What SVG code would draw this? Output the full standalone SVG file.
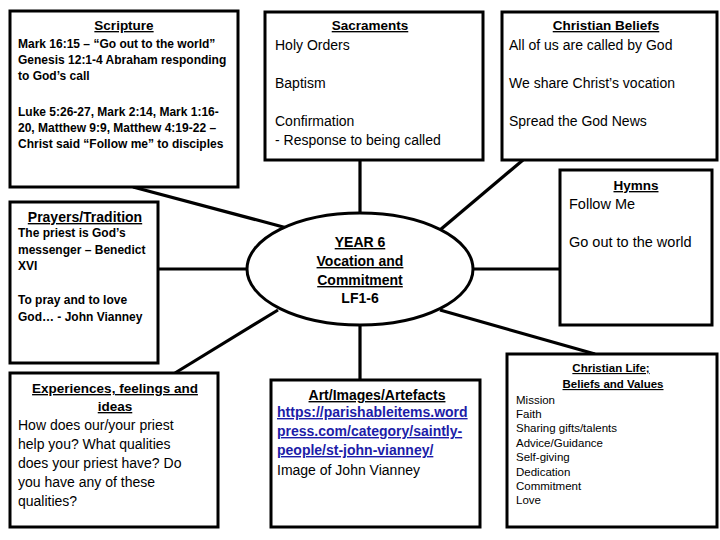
<svg xmlns="http://www.w3.org/2000/svg" width="720" height="540" viewBox="0 0 720 540">
<style>
.box{fill:#fff;stroke:#000;stroke-width:3}
.con line{stroke:#000;stroke-width:3.2;stroke-linecap:butt}
text{font-family:"Liberation Sans",Arial,sans-serif;fill:#000}
.t{font-weight:bold;text-decoration:underline;text-anchor:middle}
.b{font-weight:bold}
.lnk{fill:#1c1ca8;font-weight:bold;text-decoration:underline}
</style>
<rect width="720" height="540" fill="#fff"/>
<g id="connectors" class="con">
<line x1="133" y1="187" x2="287" y2="228"/>
<line x1="360" y1="160" x2="360" y2="213"/>
<line x1="523" y1="160" x2="440" y2="230"/>
<line x1="158" y1="269" x2="247" y2="269"/>
<line x1="472" y1="269" x2="560" y2="269"/>
<line x1="175" y1="373" x2="278" y2="310"/>
<line x1="360" y1="325" x2="360" y2="380"/>
<line x1="440" y1="310" x2="595" y2="354"/>
</g>
<g id="scripture">
<rect class="box" x="10" y="11" width="228" height="176"/>
<text class="t" x="124" y="30" font-size="13.5">Scripture</text>
<g class="b" font-size="12">
<text x="18" y="48">Mark 16:15 – “Go out to the world”</text>
<text x="18" y="64">Genesis 12:1-4 Abraham responding</text>
<text x="18" y="80">to God’s call</text>
<text x="18" y="116">Luke 5:26-27, Mark 2:14, Mark 1:16-</text>
<text x="18" y="132">20, Matthew 9:9, Matthew 4:19-22 –</text>
<text x="18" y="148">Christ said “Follow me” to disciples</text>
</g>
</g>
<g id="sacraments">
<rect class="box" x="265" y="12" width="218" height="148"/>
<text class="t" x="370" y="30" font-size="13.5">Sacraments</text>
<g font-size="14">
<text x="275" y="50">Holy Orders</text>
<text x="275" y="88">Baptism</text>
<text x="275" y="126">Confirmation</text>
<text x="275" y="145">- Response to being called</text>
</g>
</g>
<g id="christian-beliefs">
<rect class="box" x="502" y="12" width="215" height="148"/>
<text class="t" x="606" y="30" font-size="13.5">Christian Beliefs</text>
<g font-size="14">
<text x="509" y="50">All of us are called by God</text>
<text x="509" y="88">We share Christ’s vocation</text>
<text x="509" y="126">Spread the God News</text>
</g>
</g>
<g id="hymns">
<rect class="box" x="560" y="170" width="152" height="155"/>
<text class="t" x="636" y="190" font-size="13.5">Hymns</text>
<g font-size="14.5">
<text x="569" y="209">Follow Me</text>
<text x="569" y="247">Go out to the world</text>
</g>
</g>
<g id="prayers">
<rect class="box" x="10" y="202" width="148" height="161"/>
<text class="t" x="85" y="222" font-size="14">Prayers/Tradition</text>
<g class="b" font-size="12">
<text x="18" y="237">The priest is God’s</text>
<text x="18" y="254">messenger – Benedict</text>
<text x="18" y="270">XVI</text>
<text x="18" y="304">To pray and to love</text>
<text x="18" y="321">God… - John Vianney</text>
</g>
</g>
<g id="centre">
<ellipse cx="360" cy="269" rx="113" ry="56" fill="#fff" stroke="#000" stroke-width="3"/>
<g font-size="14">
<text class="t" x="360" y="247">YEAR 6</text>
<text class="t" x="360" y="266">Vocation and</text>
<text class="t" x="360" y="285">Commitment</text>
<text class="b" x="360" y="303" text-anchor="middle">LF1-6</text>
</g>
</g>
<g id="experiences">
<rect class="box" x="10" y="373" width="208" height="154"/>
<text class="t" x="115" y="393" font-size="13.5">Experiences, feelings and</text>
<text class="t" x="115" y="411" font-size="13.5">ideas</text>
<g font-size="14">
<text x="18" y="430">How does our/your priest</text>
<text x="18" y="449">help you? What qualities</text>
<text x="18" y="468">does your priest have? Do</text>
<text x="18" y="487">you have any of these</text>
<text x="18" y="506">qualities?</text>
</g>
</g>
<g id="art">
<rect class="box" x="271" y="380" width="209" height="147"/>
<text class="t" x="377" y="400" font-size="14">Art/Images/Artefacts</text>
<g font-size="14">
<text class="lnk" x="277" y="417">https://parishableitems.word</text>
<text class="lnk" x="277" y="436">press.com/category/saintly-</text>
<text class="lnk" x="277" y="455">people/st-john-vianney/</text>
<text x="277" y="475">Image of John Vianney</text>
</g>
</g>
<g id="christian-life">
<rect class="box" x="507" y="354" width="210" height="173"/>
<text class="t" x="611" y="372" font-size="11.5">Christian Life;</text>
<text class="t" x="613" y="388" font-size="11.5">Beliefs and Values</text>
<g font-size="11.5">
<text x="516" y="404">Mission</text>
<text x="516" y="418">Faith</text>
<text x="516" y="432">Sharing gifts/talents</text>
<text x="516" y="447">Advice/Guidance</text>
<text x="516" y="461">Self-giving</text>
<text x="516" y="476">Dedication</text>
<text x="516" y="490">Commitment</text>
<text x="516" y="504">Love</text>
</g>
</g>
</svg>
